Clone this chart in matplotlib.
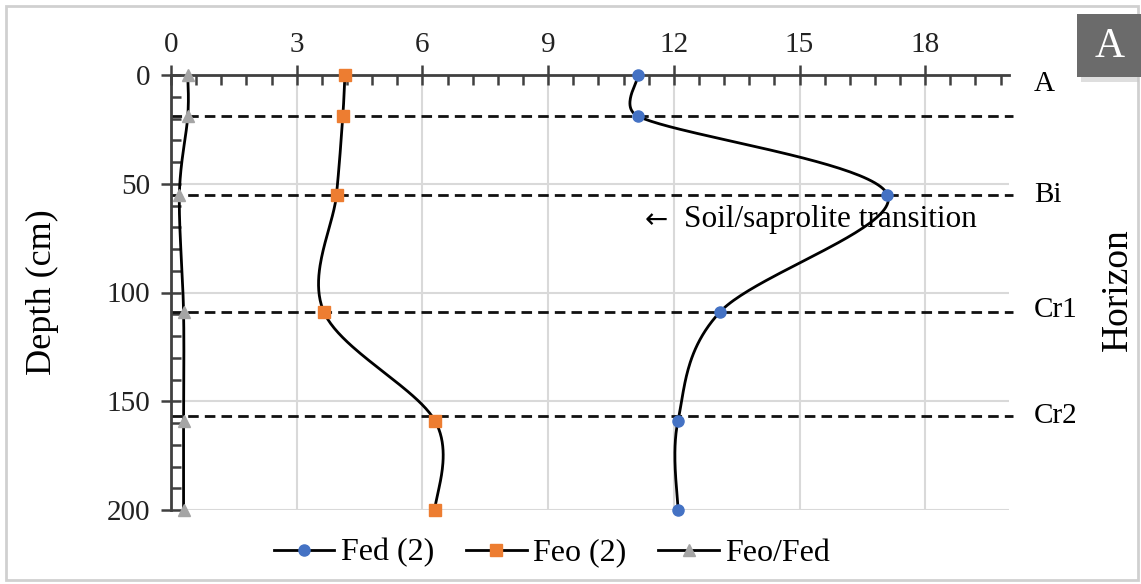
import numpy as np
import matplotlib
matplotlib.use("Agg")
import matplotlib.pyplot as plt
from matplotlib.lines import Line2D
from matplotlib.patches import Rectangle
from matplotlib.ticker import MultipleLocator

plt.rcParams['font.family'] = ['Liberation Serif', 'DejaVu Serif']

depth = [0, 19, 55, 109, 159, 200]
fed = [11.15, 11.15, 17.1, 13.1, 12.1, 12.1]
feo = [4.15, 4.1, 3.95, 3.65, 6.3, 6.3]
feo_fed = [0.4, 0.4, 0.2, 0.3, 0.3, 0.3]
series_names = ["Fed (2)", "Feo (2)", "Feo/Fed"]
horizon_depths = [19, 55, 109, 157]
horizon_labels = ["A", "Bi", "Cr1", "Cr2"]
horizon_label_depths = [4, 55, 108, 157]
x_ticks = [0, 3, 6, 9, 12, 15, 18]
y_ticks = [0, 50, 100, 150, 200]

W, H = 1141, 584
fig = plt.figure(figsize=(W / 100, H / 100), dpi=100)
L, R, T, B = 171, 1009, 75, 510
ax = fig.add_axes([L / W, 1 - B / H, (R - L) / W, (B - T) / H])
ax.set_xlim(0, 20)
ax.set_ylim(200, 0)

sx = (R - L) / 20.0
sy = (B - T) / 200.0


def smooth(xs, ys, n=50):
    P = np.column_stack([np.array(xs) * sx, np.array(ys) * sy])
    P = np.vstack([P[0], P, P[-1]])
    out = []
    for i in range(1, len(P) - 2):
        p0, p1, p2, p3 = P[i - 1], P[i], P[i + 1], P[i + 2]
        d02 = np.hypot(*(p2 - p0))
        d12 = np.hypot(*(p2 - p1))
        d13 = np.hypot(*(p3 - p1))
        f0 = 1 / 6.0
        f1 = 1 / 6.0
        if d02 / 6.0 >= d12 / 2.0 and d02 > 0:
            f0 = d12 / d02 / 2.0
        if d13 / 6.0 >= d12 / 2.0 and d13 > 0:
            f1 = d12 / d13 / 2.0
        c1 = p1 + f0 * (p2 - p0)
        c2 = p2 - f1 * (p3 - p1)
        t = np.linspace(0, 1, n)[:, None]
        seg = ((1 - t) ** 3) * p1 + 3 * ((1 - t) ** 2) * t * c1 + 3 * (1 - t) * t ** 2 * c2 + t ** 3 * p2
        out.append(seg)
    out = np.vstack(out)
    return out[:, 0] / sx, out[:, 1] / sy


ax.xaxis.tick_top()
ax.xaxis.set_minor_locator(MultipleLocator(0.6))
ax.yaxis.set_minor_locator(MultipleLocator(10))
ax.set_xticks(x_ticks)
ax.set_yticks(y_ticks)
ax.tick_params(axis='both', which='major', direction='inout', length=14, width=1.8,
               color='#404040', labelsize=21, labelcolor='#222222')
ax.tick_params(axis='x', which='major', pad=5)
ax.tick_params(axis='y', which='major', pad=8)
ax.tick_params(axis='both', which='minor', direction='in', length=7, width=1.8, color='#404040')
for s in ['right', 'bottom']:
    ax.spines[s].set_visible(False)
for s in ['left', 'top']:
    ax.spines[s].set_color('#404040')
    ax.spines[s].set_linewidth(2)
ax.grid(True, which='major', color='#d9d9d9', lw=1.5, zorder=0)
ax.set_axisbelow(True)

# horizon dashed lines
for d in horizon_depths:
    ax.plot([0, 20.1], [d, d], ls=(0, (3.8, 2.2)), color='#111111', lw=2, zorder=2, clip_on=False)

styles = [(fed, 'o', '#4472C4', 8), (feo, 's', '#ED7D31', 8), (feo_fed, '^', '#A5A5A5', 9)]
handles = []
for (vals, mk, col, ms), name in zip(styles, series_names):
    xs, ys = smooth(vals, depth)
    ax.plot(xs, ys, color='black', lw=2, zorder=3, clip_on=False)
    ax.plot(vals, depth, ls='none', marker=mk, color=col, ms=ms, zorder=4, clip_on=False)
    handles.append(Line2D([0], [0], color='black', lw=2, marker=mk, mfc=col, mec=col, ms=ms))

leg = fig.legend(handles, series_names, loc='center', bbox_to_anchor=(552 / W, 1 - 553 / H),
                 ncol=3, frameon=False, fontsize=23, handlelength=1.9, columnspacing=1.0,
                 handletextpad=0.2)

fig.text(42 / W, 1 - 292 / H, "Depth (cm)", rotation=90, fontsize=26, ha='center', va='center')
fig.text(1118 / W, 1 - 290 / H, "Horizon", rotation=90, fontsize=27, ha='center', va='center')

for lab, d in zip(horizon_labels, horizon_label_depths):
    fig.text(1034 / W, 1 - (T + d * sy) / H, lab, fontsize=21, ha='left', va='center')

fig.text(645 / W, 1 - 220 / H, "\u2190", fontsize=20, ha='left', va='center', family='DejaVu Sans')
fig.text(684 / W, 1 - 220 / H, "Soil/saprolite transition", fontsize=22.5,
         ha='left', va='center')

# title box "A"
fig.patches.append(Rectangle((1081 / W, 1 - 82 / H), 58 / W, 64 / H, transform=fig.transFigure,
                             facecolor='#c8c8c8', edgecolor='none', alpha=0.6, zorder=1))
fig.patches.append(Rectangle((1077 / W, 1 - 77 / H), 64 / W, 63 / H, transform=fig.transFigure,
                             facecolor='#6b6b6b', edgecolor='none', zorder=2))
fig.text(1110 / W, 1 - 47 / H, "A", color='white', fontsize=30, ha='center', va='center', zorder=3)

# figure border
fig.patches.append(Rectangle((6 / W, 4 / H), 1132 / W, 574 / H, transform=fig.transFigure,
                             facecolor='none', edgecolor='#d0d0d0', lw=2, zorder=0))

fig.savefig("out.png", dpi=100)
